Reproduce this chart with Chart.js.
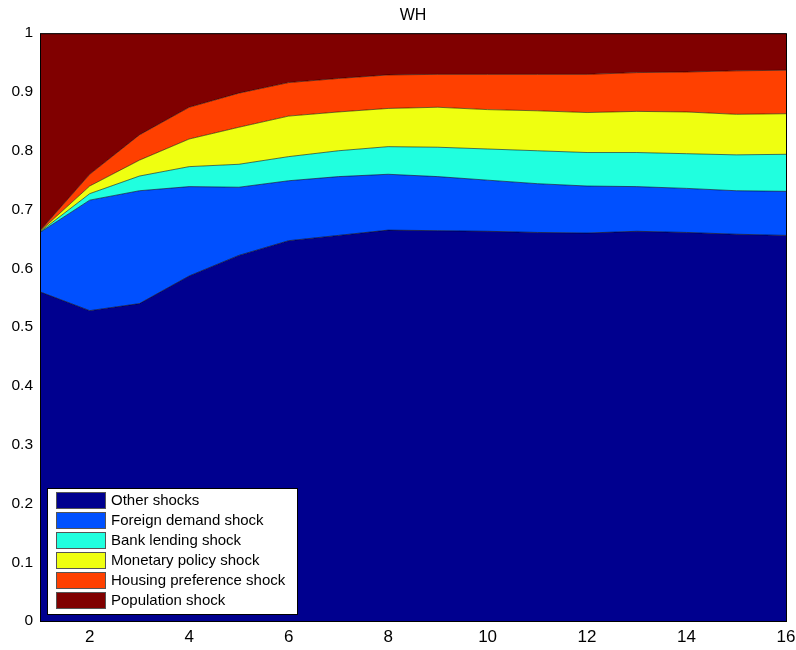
<!DOCTYPE html>
<html>
<head>
<meta charset="utf-8">
<script src="https://cdn.jsdelivr.net/npm/chart.js@4"></script>
<style>
    html,body{margin:0;padding:0;background:#fff;}
    #wrap{width:796px;height:650px;}
</style>
</head>
<body>
<div id="wrap"><canvas id="whChart" width="796" height="650"></canvas></div>
<script>
const horizons = [1,2,3,4,5,6,7,8,9,10,11,12,13,14,15,16];
const xTickValues = [2,4,6,8,10,12,14,16];

// share of variance per shock (stacked, sums to 1)
const otherShocks      = [0.560,0.528,0.540,0.587,0.622,0.647,0.656,0.665,0.664,0.663,0.661,0.660,0.663,0.661,0.658,0.656];
const foreignDemand    = [0.101,0.188,0.192,0.152,0.116,0.102,0.100,0.095,0.092,0.087,0.083,0.080,0.076,0.075,0.074,0.075];
const bankLending      = [0.001,0.011,0.025,0.034,0.039,0.041,0.044,0.047,0.050,0.053,0.056,0.057,0.058,0.059,0.061,0.063];
const monetaryPolicy   = [0.001,0.013,0.027,0.047,0.063,0.069,0.066,0.065,0.068,0.067,0.068,0.068,0.070,0.071,0.069,0.069];
const housingPref      = [0.001,0.020,0.043,0.054,0.058,0.057,0.057,0.057,0.056,0.060,0.062,0.065,0.066,0.068,0.074,0.074];
const populationShock  = [0.336,0.240,0.173,0.126,0.102,0.084,0.077,0.071,0.070,0.070,0.070,0.070,0.067,0.066,0.064,0.063];

const seriesNames  = ["Other shocks","Foreign demand shock","Bank lending shock","Monetary policy shock","Housing preference shock","Population shock"];
const seriesValues = [otherShocks,foreignDemand,bankLending,monetaryPolicy,housingPref,populationShock];
const seriesColors = ["#00008F","#0050FF","#20FFDF","#EFFF10","#FF4000","#800000"];

const FONT = "'Liberation Sans', Arial, sans-serif";

// legend box drawn inside the plot, bottom-left (matlab style)
const innerLegend = {
    id:"innerLegend",
    afterDraw(chart){
        const ctx = chart.ctx;
        const area = chart.chartArea;
        const sets = chart.data.datasets;
        const boxX = area.left + 7, boxW = 250;
        const rowH = 20, boxH = sets.length * rowH + 6;
        const boxY = area.bottom - 7 - boxH;

        ctx.save();
        ctx.fillStyle = "#fff";
        ctx.fillRect(boxX, boxY, boxW, boxH);
        ctx.strokeStyle = "#000";
        ctx.lineWidth = 1;
        ctx.strokeRect(boxX + .5, boxY + .5, boxW, boxH);

        ctx.font = "15px " + FONT;
        ctx.textBaseline = "middle";
        sets.forEach((ds, i) => {
            const y = boxY + 4 + i * rowH;
            ctx.fillStyle = ds.backgroundColor;
            ctx.fillRect(boxX + 9, y, 49, 16);
            ctx.strokeStyle = "#555";
            ctx.strokeRect(boxX + 9.5, y + .5, 49, 16);
            ctx.fillStyle = "#000";
            ctx.fillText(ds.label, boxX + 64, y + 9);
        });
        ctx.restore();
    }
};

// frame round the axes
const axesBox = {
    id:"axesBox",
    afterDatasetsDraw(chart){
        const a = chart.chartArea, ctx = chart.ctx;
        ctx.save();
        ctx.strokeStyle = "#000";
        ctx.lineWidth = 1;
        ctx.strokeRect(a.left + .5, a.top + .5, a.right - a.left, a.bottom - a.top);
        ctx.restore();
    }
};

new Chart(document.getElementById("whChart"),{

    type:"line",

    data:{
        datasets: seriesNames.map((name, i) => ({
            label:name,
            data:horizons.map((h, j) => ({x:h, y:seriesValues[i][j]})),
            backgroundColor:seriesColors[i],
            borderColor:"rgba(0,0,0,.55)",
            borderWidth:1,
            pointRadius:0,
            tension:0,
            fill: i === 0 ? "origin" : "-1"
        }))
    },

    options:{
        responsive:false,
        animation:false,
        layout:{ padding:{ left:0, right:0, top:0, bottom:0 } },
        plugins:{
            legend:{ display:false },
            tooltip:{ enabled:false },
            title:{
                display:true,
                text:"WH",
                fullSize:false,
                color:"#000",
                font:{ family:FONT, size:16, weight:"normal" },
                padding:{ top:6, bottom:8 }
            }
        },
        scales:{
            x:{
                type:"linear",
                min:1,
                max:16,
                grid:{ display:false, drawTicks:false },
                border:{ display:false },
                afterBuildTicks(scale){ scale.ticks = xTickValues.map(v => ({value:v})); },
                afterFit(scale){ scale.height = 29; scale.paddingRight = 10; },
                ticks:{ color:"#000", padding:6, maxRotation:0, font:{ family:FONT, size:17 } }
            },
            y:{
                stacked:true,
                min:0,
                max:1,
                grid:{ display:false, drawTicks:false },
                border:{ display:false },
                afterFit(scale){ scale.width = 40; },
                ticks:{
                    stepSize:0.1,
                    color:"#000",
                    padding:7,
                    font:{ family:FONT, size:15.5 },
                    callback:v => String(+v.toFixed(1))
                }
            }
        }
    },

    plugins:[axesBox, innerLegend]

});
</script>
</body>
</html>
